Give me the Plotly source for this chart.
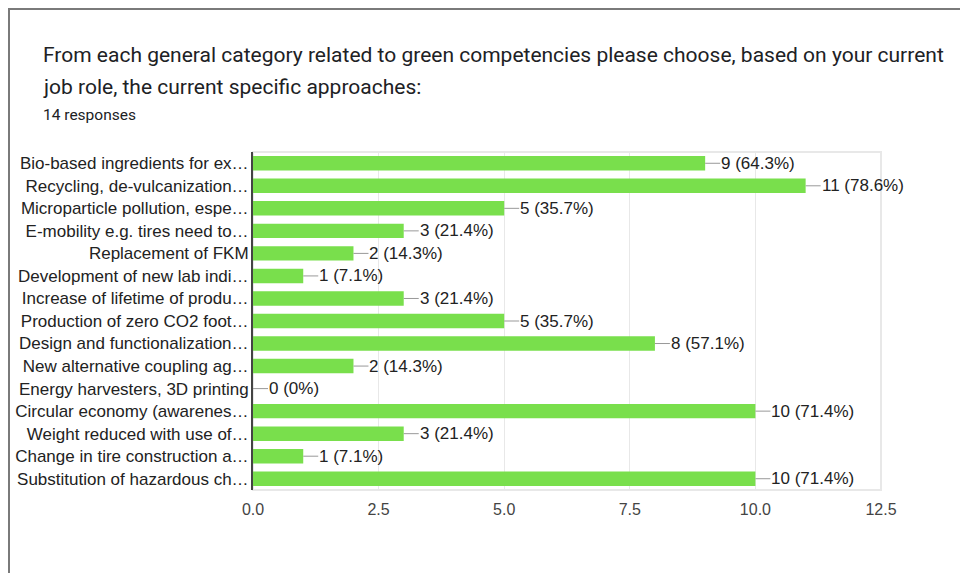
import plotly.graph_objects as go

categories = [
    "Bio-based ingredients for ex…",
    "Recycling, de-vulcanization…",
    "Microparticle pollution, espe…",
    "E-mobility e.g. tires need to…",
    "Replacement of FKM",
    "Development of new lab indi…",
    "Increase of lifetime of produ…",
    "Production of zero CO2 foot…",
    "Design and functionalization…",
    "New alternative coupling ag…",
    "Energy harvesters, 3D printing",
    "Circular economy (awarenes…",
    "Weight reduced with use of…",
    "Change in tire construction a…",
    "Substitution of hazardous ch…",
]
counts = [9, 11, 5, 3, 2, 1, 3, 5, 8, 2, 0, 10, 3, 1, 10]
total_responses = 14
x_ticks = [0, 2.5, 5, 7.5, 10, 12.5]

title_line1 = "From each general category related to green competencies please choose, based on your current"
title_line2 = "job role, the current specific approaches:"
subtitle = f"{total_responses} responses"

OFF = 8  # page body margin
W, H = 968 - OFF, 573 - OFF
L, R, T, B = 253 - OFF, 968 - 881, 152 - OFF, 573 - 490
pw, ph = W - L - R, H - T - B


def px_x(p):
    return (p - OFF - L) / pw


def px_y(p):
    return (H - B - (p - OFF)) / ph


def label(v):
    pct = v / total_responses * 100
    return f"{v} (0%)" if v == 0 else f"{v} ({pct:.1f}%)"


fig = go.Figure()
fig.add_trace(go.Bar(
    x=counts, y=categories, orientation="h",
    marker=dict(color="#79df4c", line=dict(width=0)),
    hoverinfo="skip",
))

annotations = []
for c, v in zip(categories, counts):
    annotations.append(dict(
        x=v, y=c, xref="x", yref="y", text=label(v),
        showarrow=True, arrowhead=0, arrowwidth=1, arrowcolor="#999999",
        ax=15, ay=0, xanchor="left", yanchor="middle", standoff=0,
        borderpad=0, font=dict(family="Liberation Sans, Arial", size=17, color="#222222"),
    ))

annotations += [
    dict(x=px_x(41), y=px_y(55), xref="paper", yref="paper", text=title_line1,
         showarrow=False, xanchor="left", yanchor="middle",
         font=dict(family="Roboto", size=21, color="#202124")),
    dict(x=px_x(41), y=px_y(87), xref="paper", yref="paper", text=title_line2,
         showarrow=False, xanchor="left", yanchor="middle",
         font=dict(family="Roboto", size=21, color="#202124")),
    dict(x=px_x(41), y=px_y(115), xref="paper", yref="paper", text=subtitle,
         showarrow=False, xanchor="left", yanchor="middle",
         font=dict(family="Roboto", size=15.5, color="#202124")),
]

shapes = [
    dict(type="rect", xref="x domain", yref="y domain", x0=0, x1=1, y0=0, y1=1,
         line=dict(color="#e8e8e8", width=2), layer="below"),
    dict(type="path", xref="paper", yref="paper",
         path=f"M {px_x(9)} {px_y(600)} L {px_x(9)} {px_y(9)} L {px_x(1000)} {px_y(9)}",
         line=dict(color="#7a7a7a", width=2)),
]

fig.update_layout(
    width=W, height=H,
    margin=dict(l=L, r=R, t=T, b=B, pad=0, autoexpand=False),
    paper_bgcolor="white", plot_bgcolor="white",
    bargap=0.36,
    showlegend=False,
    annotations=annotations,
    shapes=shapes,
    font=dict(family="Liberation Sans, Arial", size=17, color="#222222"),
    xaxis=dict(range=[0, 12.5], tickvals=x_ticks, tickformat=".1f", automargin=False,
               showgrid=True, gridcolor="#e8e8e8", gridwidth=1, zeroline=False,
               showline=False, ticks="", ticklabelstandoff=8,
               tickfont=dict(family="Liberation Sans, Arial", size=16, color="#444444"),
               fixedrange=True),
    yaxis=dict(categoryorder="array", categoryarray=categories, autorange="reversed",
               automargin=False,
               showline=True, linecolor="#444444", linewidth=2, ticks="",
               showgrid=False, ticklabelstandoff=-1,
               tickfont=dict(family="Liberation Sans, Arial", size=17, color="#222222"),
               fixedrange=True),
)

fig.write_html("out.html", config={"displayModeBar": False})
